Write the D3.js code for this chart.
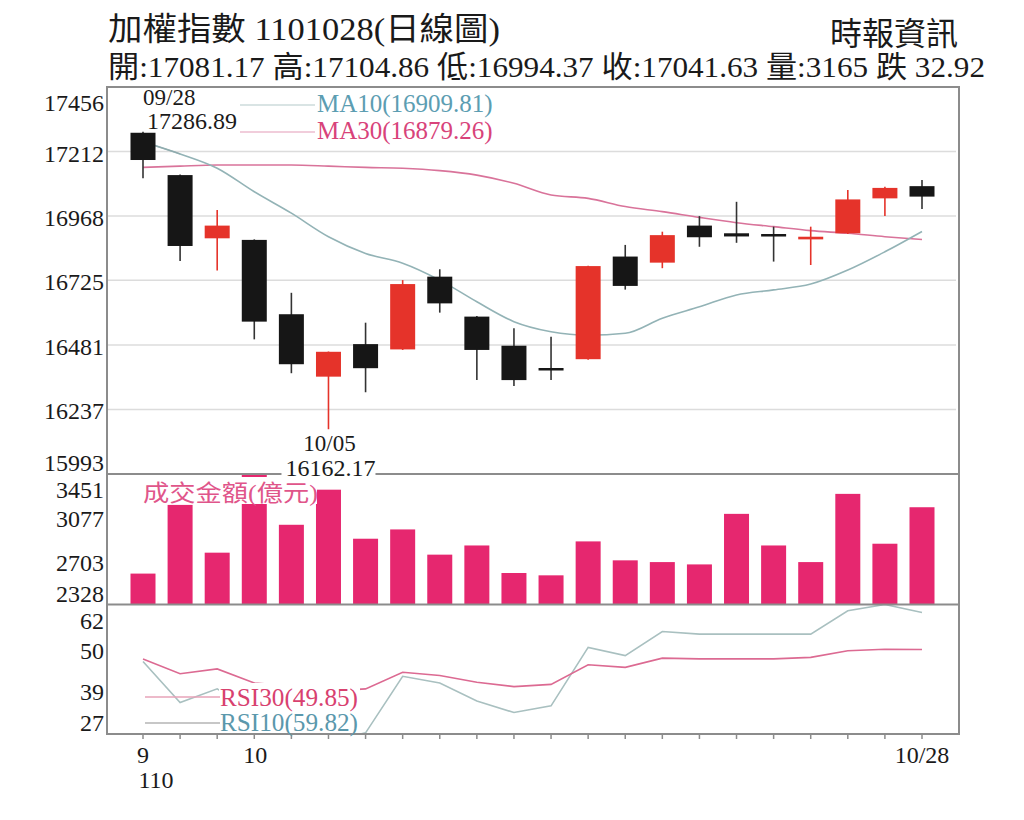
<!DOCTYPE html>
<html>
<head>
<meta charset="utf-8">
<script src="https://cdn.jsdelivr.net/npm/d3@7"></script>
<style>
html,body{margin:0;padding:0;background:#fff;}
svg{display:block;}
</style>
</head>
<body>
<div id="chart"></div>
<script>
// ---------- data ----------
const dates = ["09/28","09/29","09/30","10/01","10/04","10/05","10/06","10/07","10/08","10/12","10/13",
               "10/14","10/15","10/18","10/19","10/20","10/21","10/22","10/25","10/26","10/27","10/28"];
const openP  = [17283,17123,16884,16878,16597,16361,16484,16464,16739,16588,16478,
                16390,16427,16815,16792,16932,16903,16900,16880,16903,17035,17081.17];
const closeP = [17180,16855,16932,16569,16408,16455,16393,16711,16638,16462,16348,
                16388,16779,16704,16896,16888,16891,16891,16890,17031,17074.55,17041.63];
const highP  = [17286.89,17125,16991,16880,16678,16456,16565,16726,16767,16590,16544,
                16512,16780,16859,16909,16968,17022,16928,16928,17067,17079,17104.86];
const lowP   = [17111,16798,16762,16502,16374,16162.17,16302,16462,16603,16348,16326,
                16348,16425,16690,16771,16852,16867,16796,16783,16900,16968,16994.37];
const ma10   = [17249,17203,17149,17060,16979,16890,16827,16790,16726,16644,16569,
                16531,16518,16525,16582,16625,16670,16689,16711,16764,16833,16909.81];
const ma30   = [17152,17157,17161,17161,17161,17157,17152,17149,17140,17123,17092,
                17048,17035,17004,16985,16963,16943,16928,16913,16903,16890,16879.26];
const volume = [2594,3185,2774,3450,3014,3316,2894,2974,2757,2836,2599,
                2579,2871,2708,2693,2673,3108,2836,2693,3280,2851,3165];
const rsi30  = [47.3,43.3,44.6,40.8,40.0,38.6,39.2,43.7,42.8,41.0,39.8,
                40.4,45.7,45.0,47.5,47.3,47.3,47.3,47.7,49.5,49.9,49.85];
const rsi10  = [46.6,35.5,39.2,33.0,28.0,25.0,27.3,42.6,40.8,35.9,32.8,
                34.6,50.4,48.2,54.7,54.0,54.0,54.0,54.0,60.3,62.0,59.82];
const priceTicks = [15993,16237,16481,16725,16968,17212,17456];
const volTicks   = [2328,2703,3077,3451];
const rsiTicks   = [27,39,50,62];
const xTickDates = ["09/28","10/01","10/28"];
const xTickText  = ["9","10","10/28"];
const yearText   = "110";
const titleText  = "加權指數 1101028(日線圖)";
const sourceText = "時報資訊";
const infoText   = "開:17081.17 高:17104.86 低:16994.37 收:17041.63 量:3165 跌 32.92";
const volTitle   = "成交金額(億元)";
const ma10Label  = "MA10(16909.81)";
const ma30Label  = "MA30(16879.26)";
const rsi30Label = "RSI30(49.85)";
const rsi10Label = "RSI10(59.82)";
const hiDate = "09/28", hiText = "17286.89";
const loDate = "10/05", loText = "16162.17";

// ---------- layout ----------
const W = 1024, H = 820;
const xL = 107, xR = 959, yTop = 87, yP = 474, yV = 604.5, yR = 734;
const SERIF = "'Liberation Serif','Noto Sans CJK TC',serif";
const TXT = "#1a1a1a";

const svg = d3.select("#chart").append("svg").attr("width", W).attr("height", H)
  .style("font-family", SERIF);

const x = d3.scalePoint().domain(dates).range([143, 922]);
const yPrice = d3.scaleLinear().domain([15993, 17456]).range([yP, yTop]);
const yVol = d3.scaleLinear().domain([2328, 3451]).range([yV, yP]);
const yRsi = d3.scaleLinear().domain([27, 62]).range([yR, yV]);

const defs = svg.append("defs");
function clip(id, y0, y1) {
  defs.append("clipPath").attr("id", id).append("rect")
    .attr("x", xL).attr("y", y0).attr("width", xR - xL).attr("height", y1 - y0);
}
clip("cp", yTop, yP); clip("cv", yP, yV); clip("cr", yV, yR);

// header
svg.append("text").attr("x", 108).attr("y", 40).attr("font-size", 32).attr("fill", TXT)
  .attr("textLength", 392).attr("lengthAdjust", "spacingAndGlyphs").text(titleText);
svg.append("text").attr("x", 830).attr("y", 45).attr("font-size", 32).attr("fill", TXT)
  .attr("textLength", 128).attr("lengthAdjust", "spacingAndGlyphs").text(sourceText);
svg.append("text").attr("x", 108).attr("y", 77).attr("font-size", 30).attr("fill", TXT)
  .attr("textLength", 877).attr("lengthAdjust", "spacingAndGlyphs").text(infoText);

// price gridlines
svg.append("g").selectAll("line").data(priceTicks.slice(1, -1)).join("line")
  .attr("x1", xL).attr("x2", xR - 3)
  .attr("y1", d => yPrice(d)).attr("y2", d => yPrice(d))
  .attr("stroke", "#dcdcdc").attr("stroke-width", 1.5);

// axis labels
function yLabels(ticks, scale, top, bottom) {
  svg.append("g").selectAll("text").data(ticks).join("text")
    .attr("x", 104).attr("text-anchor", "end").attr("font-size", 24).attr("fill", TXT)
    .attr("dominant-baseline", "central")
    .attr("y", (d, i) => i === ticks.length - 1 ? top + 16 : (i === 0 ? bottom - 11 : scale(d) + 2))
    .text(d => d);
}
yLabels(priceTicks, yPrice, yTop, yP);
yLabels(volTicks, yVol, yP, yV);
yLabels(rsiTicks, yRsi, yV, yR);

// volume bars
svg.append("g").attr("clip-path", "url(#cv)").selectAll("rect").data(dates).join("rect")
  .attr("x", d => x(d) - 12.5).attr("width", 25)
  .attr("y", (d, i) => yVol(volume[i])).attr("height", (d, i) => yV - yVol(volume[i]))
  .attr("fill", "#e6276f");

// MA lines
const maLine = arr => d3.line().x((d, i) => x(dates[i])).y(d => yPrice(d)).curve(d3.curveMonotoneX)(arr);
const gp = svg.append("g").attr("clip-path", "url(#cp)");
gp.append("path").attr("d", maLine(ma30)).attr("fill", "none").attr("stroke", "#d9739a").attr("stroke-width", 1.6);
gp.append("path").attr("d", maLine(ma10)).attr("fill", "none").attr("stroke", "#93b3b6").attr("stroke-width", 1.6);

// candles
const RED = "#e5332a", BLK = "#161616";
const cg = svg.append("g").attr("clip-path", "url(#cp)");
dates.forEach((d, i) => {
  const up = closeP[i] > openP[i];
  const col = up ? RED : BLK;
  cg.append("line").attr("x1", x(d)).attr("x2", x(d))
    .attr("y1", yPrice(highP[i])).attr("y2", yPrice(lowP[i]))
    .attr("stroke", up ? RED : "#333").attr("stroke-width", 1.6);
  const yt = yPrice(Math.max(openP[i], closeP[i]));
  const yb = yPrice(Math.min(openP[i], closeP[i]));
  const h = Math.max(2.5, yb - yt);
  cg.append("rect").attr("x", x(d) - 12.5).attr("width", 25)
    .attr("y", (yt + yb) / 2 - h / 2).attr("height", h).attr("fill", col);
});
// MA10 passes over the first candle slightly
gp.append("path").attr("d", maLine(ma10.slice(0, 2))).attr("fill", "none")
  .attr("stroke", "#8fa9ab").attr("stroke-width", 1.4).attr("opacity", 0.8);

// RSI lines
const rsiLine = arr => d3.line().x((d, i) => x(dates[i])).y(d => yRsi(d))(arr);
const gr = svg.append("g").attr("clip-path", "url(#cr)");
gr.append("path").attr("d", rsiLine(rsi10)).attr("fill", "none").attr("stroke", "#a9c0c0").attr("stroke-width", 1.6);
gr.append("path").attr("d", rsiLine(rsi30)).attr("fill", "none").attr("stroke", "#dc6a92").attr("stroke-width", 1.6);

// frame & separators
svg.append("rect").attr("x", xL).attr("y", yTop).attr("width", xR - xL).attr("height", yR - yTop)
  .attr("fill", "none").attr("stroke", "#8c8c8c").attr("stroke-width", 2);
[yP, yV].forEach(yy => svg.append("line").attr("x1", xL).attr("x2", xR).attr("y1", yy).attr("y2", yy)
  .attr("stroke", "#8c8c8c").attr("stroke-width", 2));

// x ticks
svg.append("g").selectAll("line").data(dates).join("line")
  .attr("x1", d => x(d)).attr("x2", d => x(d)).attr("y1", yR).attr("y2", yR + 5)
  .attr("stroke", "#8c8c8c").attr("stroke-width", 1.5);
svg.append("g").selectAll("text").data(xTickDates).join("text")
  .attr("x", (d, i) => x(d) + (i === 1 ? 1 : 0)).attr("y", 763).attr("text-anchor", "middle")
  .attr("font-size", 24).attr("fill", TXT).text((d, i) => xTickText[i]);
svg.append("text").attr("x", x(xTickDates[0]) + 13).attr("y", 788).attr("text-anchor", "middle")
  .attr("font-size", 24).attr("fill", TXT).text(yearText);

// volume title with white box
svg.append("rect").attr("x", 141).attr("y", 477).attr("width", 176).attr("height", 27).attr("fill", "#fff");
svg.append("text").attr("x", 143).attr("y", 501).attr("font-size", 23).attr("fill", "#e0558a")
  .attr("textLength", 175).attr("lengthAdjust", "spacingAndGlyphs").text(volTitle);

// MA legend
const legMA = [[ma10Label, 105, "#93b3b6", "#5c9db2", 112], [ma30Label, 132, "#d9739a", "#d8437a", 139]];
legMA.forEach(([t, ly, lc, tc, ty]) => {
  svg.append("line").attr("x1", 240).attr("x2", 315).attr("y1", ly).attr("y2", ly)
    .attr("stroke", lc).attr("stroke-width", 1.2).attr("opacity", 0.7);
  svg.append("text").attr("x", 317).attr("y", ty).attr("font-size", 25).attr("fill", tc).text(t);
});

// RSI legend with white box
svg.append("rect").attr("x", 219).attr("y", 683).attr("width", 141).attr("height", 50).attr("fill", "#fff");
const legR = [[rsi30Label, 697, "#e7a3b8", "#d8416f", 706], [rsi10Label, 723, "#b5b5b5", "#5b98ac", 731]];
legR.forEach(([t, ly, lc, tc, ty]) => {
  svg.append("line").attr("x1", 145).attr("x2", 220).attr("y1", ly).attr("y2", ly)
    .attr("stroke", lc).attr("stroke-width", 1.4);
  svg.append("text").attr("x", 220).attr("y", ty).attr("font-size", 25).attr("fill", tc)
    .attr("textLength", 138).attr("lengthAdjust", "spacingAndGlyphs").text(t);
});

// high / low annotations
svg.append("text").attr("x", x(hiDate)).attr("y", 105).attr("font-size", 23).attr("fill", TXT).text(hiDate);
svg.append("text").attr("x", x(hiDate) + 4).attr("y", 129).attr("font-size", 24).attr("fill", TXT).text(hiText);
svg.append("rect").attr("x", x(loDate) - 47).attr("y", 457).attr("width", 94).attr("height", 21).attr("fill", "#fff");
svg.append("text").attr("x", x(loDate) + 1).attr("y", 451).attr("text-anchor", "middle").attr("font-size", 23).attr("fill", TXT).text(loDate);
svg.append("text").attr("x", x(loDate) + 2).attr("y", 476).attr("text-anchor", "middle").attr("font-size", 24).attr("fill", TXT).text(loText);
</script>
</body>
</html>
